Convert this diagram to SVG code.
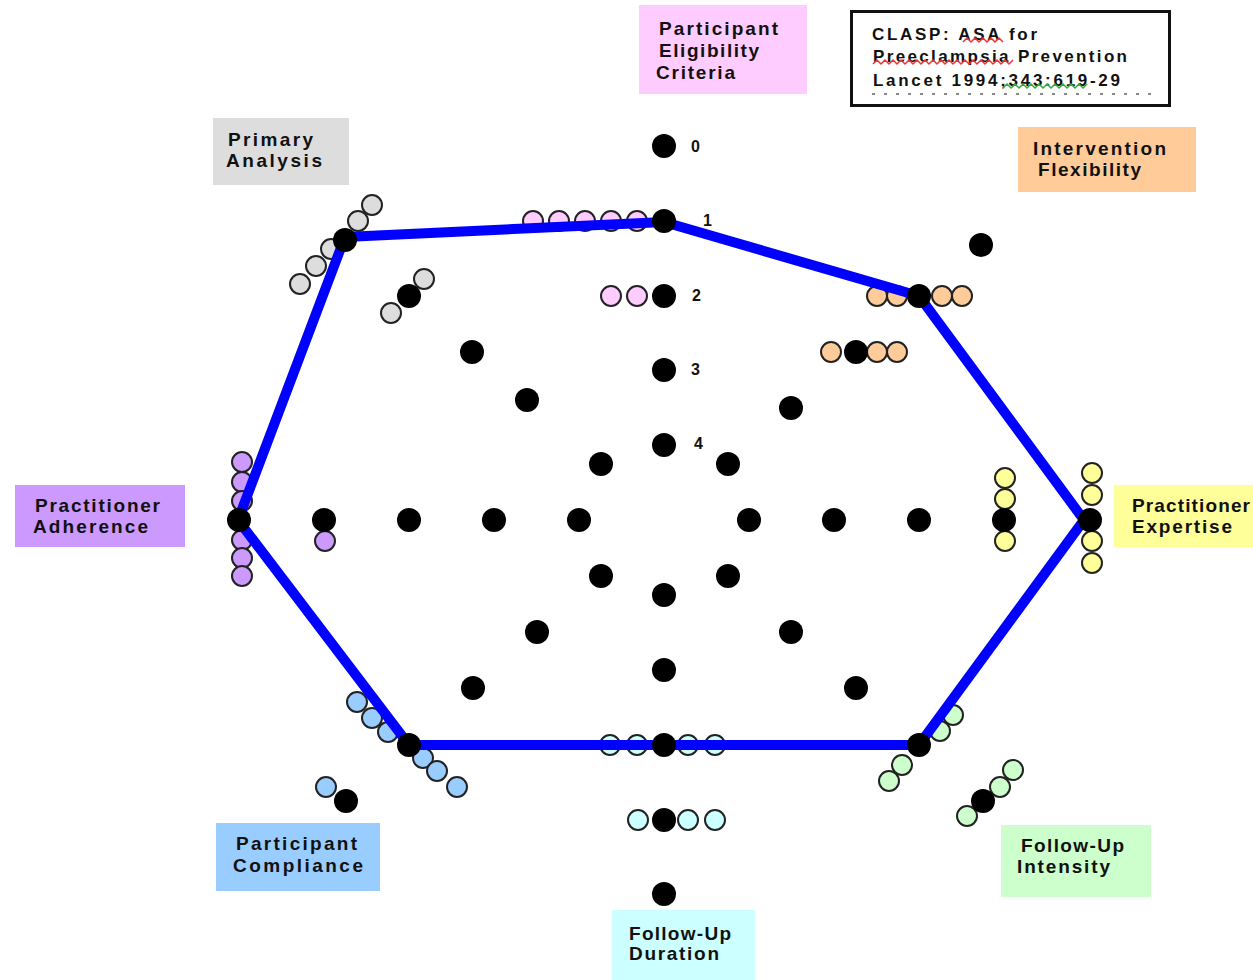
<svg xmlns="http://www.w3.org/2000/svg" width="1253" height="980" viewBox="0 0 1253 980">
<style>
.lbl{font-family:"Liberation Sans",Arial,sans-serif;font-weight:bold;font-size:19px;fill:#111}
.num{font-family:"Liberation Sans",Arial,sans-serif;font-weight:bold;font-size:16px;fill:#111}
.hdr{font-family:"Liberation Sans",Arial,sans-serif;font-weight:bold;font-size:17px;fill:#111}
.b{fill:#000}
.c{stroke:#222;stroke-width:2}
.pk{fill:#FFCCFF}.gy{fill:#DDDDDD}.or{fill:#FFCC99}.ye{fill:#FFFF99}.pu{fill:#CC99FF}.bl{fill:#99CCFF}.cy{fill:#CCFFFF}.gr{fill:#CCFFCC}
</style>
<rect width="1253" height="980" fill="#fff"/>

<g id="header">
<rect x="851.5" y="11.5" width="318" height="94" fill="#fff" stroke="#111" stroke-width="3"/>
<text class="hdr" x="872" y="40" textLength="165" lengthAdjust="spacing">CLASP: ASA for</text>
<text class="hdr" x="873" y="62" textLength="254" lengthAdjust="spacing">Preeclampsia Prevention</text>
<text class="hdr" x="873" y="86" textLength="247" lengthAdjust="spacing">Lancet 1994;343:619-29</text>
<polyline points="963,42 967,38 971,42 975,38 979,42 983,38 987,42 991,38 995,42 999,38 1003,42" fill="none" stroke="#e33" stroke-width="1.5"/>
<polyline points="873,64 877,60 881,64 885,60 889,64 893,60 897,64 901,60 905,64 909,60 913,64 917,60 921,64 925,60 929,64 933,60 937,64 941,60 945,64 949,60 953,64 957,60 961,64 965,60 969,64 973,60 977,64 981,60 985,64 989,60 993,64 997,60 1001,64 1005,60 1009,64 1013,60" fill="none" stroke="#e33" stroke-width="1.5"/>
<polyline points="1003,88 1007,84 1011,88 1015,84 1019,88 1023,84 1027,88 1031,84 1035,88 1039,84 1043,88 1047,84 1051,88 1055,84 1059,88 1063,84 1067,88 1071,84 1075,88 1079,84 1083,88 1087,84" fill="none" stroke="#3a3" stroke-width="1.5"/>
<line x1="872" y1="94" x2="1155" y2="94" stroke="#888" stroke-width="2" stroke-dasharray="3 9"/>
</g>

<g id="label-eligibility">
<rect x="639" y="5" width="168" height="89" fill="#FFCCFF"/>
<text class="lbl" x="659" y="35" textLength="119" lengthAdjust="spacing">Participant</text>
<text class="lbl" x="659" y="57" textLength="100" lengthAdjust="spacing">Eligibility</text>
<text class="lbl" x="656" y="79" textLength="79" lengthAdjust="spacing">Criteria</text>
</g>
<g id="label-primary">
<rect x="213" y="118" width="136" height="67" fill="#DDDDDD"/>
<text class="lbl" x="228" y="146" textLength="85" lengthAdjust="spacing">Primary</text>
<text class="lbl" x="226" y="167" textLength="96" lengthAdjust="spacing">Analysis</text>
</g>
<g id="label-flexibility">
<rect x="1018" y="127" width="178" height="65" fill="#FFCC99"/>
<text class="lbl" x="1033" y="155" textLength="133" lengthAdjust="spacing">Intervention</text>
<text class="lbl" x="1038" y="176" textLength="103" lengthAdjust="spacing">Flexibility</text>
</g>
<g id="label-adherence">
<rect x="15" y="485" width="170" height="62" fill="#CC99FF"/>
<text class="lbl" x="35" y="512" textLength="125" lengthAdjust="spacing">Practitioner</text>
<text class="lbl" x="33" y="533" textLength="115" lengthAdjust="spacing">Adherence</text>
</g>
<g id="label-expertise">
<rect x="1114" y="485" width="145" height="62" fill="#FFFF99"/>
<text class="lbl" x="1132" y="512" textLength="118" lengthAdjust="spacing">Practitioner</text>
<text class="lbl" x="1132" y="533" textLength="100" lengthAdjust="spacing">Expertise</text>
</g>
<g id="label-compliance">
<rect x="216" y="823" width="164" height="68" fill="#99CCFF"/>
<text class="lbl" x="236" y="850" textLength="121" lengthAdjust="spacing">Participant</text>
<text class="lbl" x="233" y="872" textLength="130" lengthAdjust="spacing">Compliance</text>
</g>
<g id="label-duration">
<rect x="612" y="910" width="143" height="70" fill="#CCFFFF"/>
<text class="lbl" x="629" y="940" textLength="102" lengthAdjust="spacing">Follow-Up</text>
<text class="lbl" x="629" y="960" textLength="90" lengthAdjust="spacing">Duration</text>
</g>
<g id="label-intensity">
<rect x="1001" y="825" width="150" height="72" fill="#CCFFCC"/>
<text class="lbl" x="1021" y="852" textLength="103" lengthAdjust="spacing">Follow-Up</text>
<text class="lbl" x="1017" y="873" textLength="93" lengthAdjust="spacing">Intensity</text>
</g>

<g id="scale-numbers">
<text class="num" x="691" y="152">0</text>
<text class="num" x="703" y="226">1</text>
<text class="num" x="692" y="301">2</text>
<text class="num" x="691" y="375">3</text>
<text class="num" x="694" y="449">4</text>
</g>

<g id="colored-points" class="c">
<circle class="pk" cx="533" cy="221" r="10"/><circle class="pk" cx="559" cy="221" r="10"/><circle class="pk" cx="585" cy="221" r="10"/><circle class="pk" cx="611" cy="221" r="10"/><circle class="pk" cx="637" cy="221" r="10"/>
<circle class="pk" cx="611" cy="296" r="10"/><circle class="pk" cx="637" cy="296" r="10"/>
<circle class="gy" cx="372" cy="205" r="10"/><circle class="gy" cx="358" cy="221" r="10"/><circle class="gy" cx="331" cy="249" r="10"/><circle class="gy" cx="316" cy="266" r="10"/><circle class="gy" cx="300" cy="284" r="10"/>
<circle class="gy" cx="424" cy="279" r="10"/><circle class="gy" cx="391" cy="313" r="10"/>
<circle class="or" cx="877" cy="296" r="10"/><circle class="or" cx="897" cy="296" r="10"/><circle class="or" cx="942" cy="296" r="10"/><circle class="or" cx="962" cy="296" r="10"/>
<circle class="or" cx="831" cy="352" r="10"/><circle class="or" cx="877" cy="352" r="10"/><circle class="or" cx="897" cy="352" r="10"/>
<circle class="ye" cx="1005" cy="478" r="10"/><circle class="ye" cx="1005" cy="499" r="10"/><circle class="ye" cx="1005" cy="541" r="10"/>
<circle class="ye" cx="1092" cy="473" r="10"/><circle class="ye" cx="1092" cy="495" r="10"/><circle class="ye" cx="1092" cy="541" r="10"/><circle class="ye" cx="1092" cy="563" r="10"/>
<circle class="pu" cx="242" cy="462" r="10"/><circle class="pu" cx="242" cy="482" r="10"/><circle class="pu" cx="242" cy="501" r="10"/><circle class="pu" cx="242" cy="540" r="10"/><circle class="pu" cx="242" cy="558" r="10"/><circle class="pu" cx="242" cy="576" r="10"/>
<circle class="pu" cx="325" cy="541" r="10"/>
<circle class="bl" cx="357" cy="702" r="10"/><circle class="bl" cx="372" cy="718" r="10"/><circle class="bl" cx="388" cy="732" r="10"/><circle class="bl" cx="423" cy="758" r="10"/><circle class="bl" cx="437" cy="771" r="10"/><circle class="bl" cx="457" cy="787" r="10"/>
<circle class="bl" cx="326" cy="787" r="10"/>
<circle class="cy" cx="610" cy="745" r="10"/><circle class="cy" cx="637" cy="745" r="10"/><circle class="cy" cx="688" cy="745" r="10"/><circle class="cy" cx="715" cy="745" r="10"/>
<circle class="cy" cx="638" cy="820" r="10"/><circle class="cy" cx="688" cy="820" r="10"/><circle class="cy" cx="715" cy="820" r="10"/>
<circle class="gr" cx="902" cy="765" r="10"/><circle class="gr" cx="889" cy="781" r="10"/><circle class="gr" cx="953" cy="715" r="10"/><circle class="gr" cx="940" cy="731" r="10"/>
<circle class="gr" cx="1013" cy="770" r="10"/><circle class="gr" cx="1000" cy="787" r="10"/><circle class="gr" cx="967" cy="816" r="10"/>
</g>

<g id="connectors">
<polygon points="345,237 664,222 919,296 1084,520 919,745 409,745 238,520" fill="none" stroke="#0000FF" stroke-width="10" stroke-linejoin="miter"/>
</g>

<g id="scale-points" class="b">
<circle cx="664" cy="146" r="12"/><circle cx="664" cy="221" r="12"/><circle cx="664" cy="296" r="12"/><circle cx="664" cy="370" r="12"/><circle cx="664" cy="445" r="12"/>
<circle cx="664" cy="595" r="12"/><circle cx="664" cy="670" r="12"/><circle cx="664" cy="745" r="12"/><circle cx="664" cy="820" r="12"/><circle cx="664" cy="894" r="12"/>
<circle cx="239" cy="520" r="12"/><circle cx="324" cy="520" r="12"/><circle cx="409" cy="520" r="12"/><circle cx="494" cy="520" r="12"/><circle cx="579" cy="520" r="12"/>
<circle cx="749" cy="520" r="12"/><circle cx="834" cy="520" r="12"/><circle cx="919" cy="520" r="12"/><circle cx="1004" cy="520" r="12"/><circle cx="1090" cy="520" r="12"/>
<circle cx="601" cy="464" r="12"/><circle cx="527" cy="400" r="12"/><circle cx="472" cy="352" r="12"/><circle cx="409" cy="296" r="12"/><circle cx="345" cy="240" r="12"/>
<circle cx="728" cy="464" r="12"/><circle cx="791" cy="408" r="12"/><circle cx="856" cy="352" r="12"/><circle cx="919" cy="296" r="12"/><circle cx="981" cy="245" r="12"/>
<circle cx="728" cy="576" r="12"/><circle cx="791" cy="632" r="12"/><circle cx="856" cy="688" r="12"/><circle cx="919" cy="745" r="12"/><circle cx="983" cy="801" r="12"/>
<circle cx="601" cy="576" r="12"/><circle cx="537" cy="632" r="12"/><circle cx="473" cy="688" r="12"/><circle cx="409" cy="745" r="12"/><circle cx="346" cy="801" r="12"/>
</g>
</svg>
